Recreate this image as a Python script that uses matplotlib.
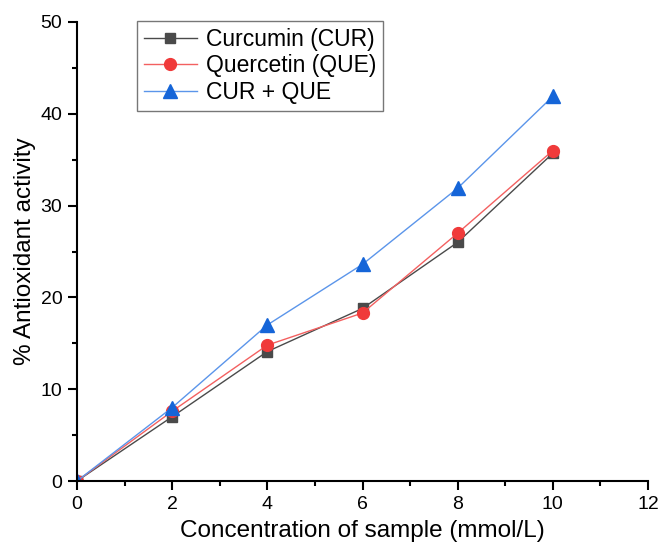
import matplotlib
matplotlib.use("Agg")
import matplotlib.pyplot as plt
from matplotlib.ticker import MultipleLocator

plt.rcParams['font.family'] = ['Liberation Sans', 'DejaVu Sans']

conc = [0, 2, 4, 6, 8, 10]
cur = [0, 7.0, 14.1, 18.8, 26.0, 35.7]
que = [0, 7.6, 14.8, 18.3, 27.0, 36.0]
cur_que = [0, 8.0, 17.0, 23.6, 31.9, 41.9]
labels = ["Curcumin (CUR)", "Quercetin (QUE)", "CUR + QUE"]

fig = plt.figure(figsize=(6.62, 5.52), dpi=100)
ax = fig.add_axes([77/662, 1 - 481/552, (648-77)/662, (481-22)/552])

ax.plot(conc, cur, color='#4a4a4a', lw=1, marker='s', ms=7.5, label=labels[0])
ax.plot(conc, que, color='#f36060', lw=1, marker='o', ms=8.5, mfc='#f03a3a', mec='#f03a3a', label=labels[1])
ax.plot(conc, cur_que, color='#5b95ea', lw=1, marker='^', ms=9.5, mfc='#1565d8', mec='#1565d8', label=labels[2])

ax.set_xlim(0, 12)
ax.set_ylim(0, 50)
ax.xaxis.set_major_locator(MultipleLocator(2))
ax.xaxis.set_minor_locator(MultipleLocator(1))
ax.yaxis.set_major_locator(MultipleLocator(10))
ax.yaxis.set_minor_locator(MultipleLocator(5))
for s in ['top', 'right']:
    ax.spines[s].set_visible(False)
for s in ['left', 'bottom']:
    ax.spines[s].set_linewidth(1.5)
ax.tick_params(which='major', direction='out', length=6.5, width=1.5, labelsize=14, pad=4)
ax.tick_params(which='minor', direction='out', length=3.5, width=1.5)
ax.set_xlabel("Concentration of sample (mmol/L)", fontsize=17.5, labelpad=5)
ax.set_ylabel("% Antioxidant activity", fontsize=17.5, labelpad=3)
for lab in ax.get_xticklabels() + ax.get_yticklabels():
    lab.set_clip_on(False)

leg = ax.legend(loc='upper left', bbox_to_anchor=(60/571, 1.002), fontsize=16.5, frameon=True,
                fancybox=False, edgecolor='#555555', handlelength=2.3, handletextpad=0.4,
                borderpad=0.3, labelspacing=0.15, borderaxespad=0)
leg.get_frame().set_linewidth(1)

fig.savefig("out.png", dpi=100)
